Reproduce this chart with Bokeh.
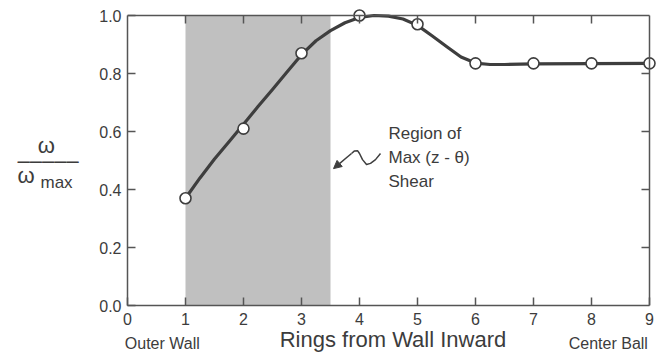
from bokeh.plotting import figure
from bokeh.models import (Range1d, LinearAxis, FixedTicker, PrintfTickFormatter,
                          CustomJSTickFormatter, Label, Arrow, NormalHead, BoxAnnotation)
from bokeh.embed import file_html
from bokeh.resources import INLINE

# ---- data ----
ring = [1, 2, 3, 4, 5, 6, 7, 8, 9]
omega_ratio = [0.37, 0.61, 0.87, 1.0, 0.97, 0.835, 0.835, 0.835, 0.835]

curve_x = [1.0, 1.25, 1.5, 1.75, 2.0, 2.25, 2.5, 2.75, 3.0, 3.25, 3.5, 3.75, 4.0,
           4.25, 4.5, 4.75, 5.0, 5.25, 5.5, 5.75, 6.0, 6.25, 6.5, 7.0, 8.0, 9.0]
curve_y = [0.37, 0.44, 0.505, 0.565, 0.625, 0.686, 0.745, 0.805, 0.865, 0.913, 0.948,
           0.975, 0.993, 1.0, 0.998, 0.988, 0.966, 0.93, 0.893, 0.857, 0.836, 0.831,
           0.831, 0.833, 0.834, 0.835]

shear_region = [1.0, 3.5]
x_ticks = [0, 1, 2, 3, 4, 5, 6, 7, 8, 9]
y_ticks = [0.0, 0.2, 0.4, 0.6, 0.8, 1.0]
top_ticks = [1.0, 2.0, 3.0, 4.0, 5.0, 6.0, 7.0, 8.0]
right_ticks = [0.2, 0.4, 0.6, 0.8]

annot_lines = ["Region of", "Max (z - \u03b8)", "Shear"]
annot_pos = (4.5, 0.593)
squiggle_x = [4.362, 4.276, 4.19, 4.121, 4.052, 4.0, 3.966, 3.914, 3.862]
squiggle_y = [0.524, 0.503, 0.490, 0.486, 0.503, 0.524, 0.534, 0.533, 0.524]
arrow_end = (3.552, 0.472)

x_title = "Rings from Wall Inward"
end_labels = ["Outer Wall", "Center Ball"]
end_label_x = [0.6, 8.29]

y_label_main = "\u2002\u2005\u2006\u03c9\n\u2013\u2013\u2013\u2013\u2013\n\u03c9"
y_label_sub = "max"

FONT = "Liberation Sans"
TXT = "#3c3c3c"
AX = "#555555"
LINE = "#3e3e3e"

W, H = 668, 354
BOX_L, BOX_R, BOX_T, BOX_B = 127, 649, 15, 305   # plotting box in pixels
PAD = 9                                          # frame margin so edge markers are not clipped
X0, X1, Y0, Y1 = 0.0, 9.0, 0.0, 1.0
xpx = (BOX_R - BOX_L) / (X1 - X0)
ypx = (BOX_B - BOX_T) / (Y1 - Y0)
TICK = 8

p = figure(width=W, height=H, output_backend="svg", toolbar_location=None,
           x_range=Range1d(X0, X1 + PAD / xpx), y_range=Range1d(Y0, Y1 + PAD / ypx),
           min_border_left=BOX_L, min_border_right=W - BOX_R - PAD,
           min_border_top=BOX_T - PAD, min_border_bottom=H - BOX_B,
           x_axis_location=None, y_axis_location=None)
p.grid.visible = False
p.outline_line_color = None
p.background_fill_color = "white"
p.border_fill_color = "white"

def style_axis(ax):
    ax.axis_line_color = AX
    ax.axis_line_width = 1.5
    ax.major_tick_line_color = AX
    ax.major_tick_line_width = 1.5
    ax.major_tick_in = TICK
    ax.major_tick_out = 0
    ax.minor_tick_line_color = None
    ax.major_label_text_font = FONT
    ax.major_label_text_font_size = "16px"
    ax.major_label_text_color = TXT

bottom = LinearAxis(ticker=FixedTicker(ticks=x_ticks), bounds=(X0, X1))
style_axis(bottom)
bottom.major_label_standoff = 7
p.add_layout(bottom, "below")

# second bottom axis: only texts (end labels + axis title on the same row)
names = LinearAxis(ticker=FixedTicker(ticks=end_label_x),
                   formatter=CustomJSTickFormatter(args=dict(labels=end_labels),
                                                   code="return labels[index]"))
names.axis_line_color = None
names.major_tick_line_color = None
names.minor_tick_line_color = None
names.major_tick_in = 0
names.major_tick_out = 0
names.major_label_standoff = 7
names.major_label_text_font = FONT
names.major_label_text_font_size = "16px"
names.major_label_text_color = TXT
names.axis_label = x_title
names.axis_label_text_font = FONT
names.axis_label_text_font_style = "normal"
names.axis_label_text_font_size = "22px"
names.axis_label_text_color = TXT
names.axis_label_standoff = -28
p.add_layout(names, "below")

left = LinearAxis(ticker=FixedTicker(ticks=y_ticks), bounds=(Y0, Y1),
                  formatter=PrintfTickFormatter(format="%.1f"))
style_axis(left)
left.major_label_standoff = 6
p.add_layout(left, "left")

# top and right edges of the box: tick-only axes fixed at y = 1 and x = 9
top = LinearAxis(ticker=FixedTicker(ticks=top_ticks), bounds=(X0, X1), fixed_location=Y1)
style_axis(top)
top.major_label_text_color = None
top.major_label_text_alpha = 0
top.major_label_text_font_size = "1px"
top.major_label_standoff = 0
p.add_layout(top, "above")

right = LinearAxis(ticker=FixedTicker(ticks=right_ticks), bounds=(Y0, Y1), fixed_location=X1)
style_axis(right)
right.major_label_text_color = None
right.major_label_text_alpha = 0
right.major_label_text_font_size = "1px"
right.major_label_standoff = 0
p.add_layout(right, "right")

# shaded region
p.add_layout(BoxAnnotation(left=shear_region[0], right=shear_region[1], bottom=Y0, top=Y1,
                           fill_color="#c0c0c0", fill_alpha=1.0, line_color=None,
                           level="underlay"))

# fitted curve and points
p.line(curve_x, curve_y, line_color=LINE, line_width=3.2, line_join="round")
p.scatter(ring, omega_ratio, size=11, marker="circle", fill_color="white",
          line_color=LINE, line_width=1.6)

# annotation text
for i, t in enumerate(annot_lines):
    p.add_layout(Label(x=annot_pos[0], y=annot_pos[1], y_offset=-24 * i, text=t,
                       text_font=FONT, text_font_size="17px", text_color=TXT,
                       text_baseline="middle"))
p.line(squiggle_x, squiggle_y, line_color=LINE, line_width=1.5, line_join="round")
p.add_layout(Arrow(end=NormalHead(size=8, fill_color=LINE, line_color=LINE),
                   x_start=squiggle_x[-1], y_start=squiggle_y[-1],
                   x_end=arrow_end[0], y_end=arrow_end[1],
                   line_color=LINE, line_width=1.5))

# y-axis fraction label, in the left side panel so it is not clipped by the frame
p.add_layout(Label(x=(17 - BOX_L) / xpx, y=(BOX_B - 160) / ypx, text=y_label_main,
                   text_font=FONT, text_font_size="22px", text_color=TXT,
                   text_align="left", text_baseline="middle", text_line_height=0.6), "left")
p.add_layout(Label(x=(40 - BOX_L) / xpx, y=(BOX_B - 182) / ypx, text=y_label_sub,
                   text_font=FONT, text_font_size="17px", text_color=TXT,
                   text_align="left", text_baseline="middle"), "left")

open("out.html", "w").write(file_html(p, INLINE))
